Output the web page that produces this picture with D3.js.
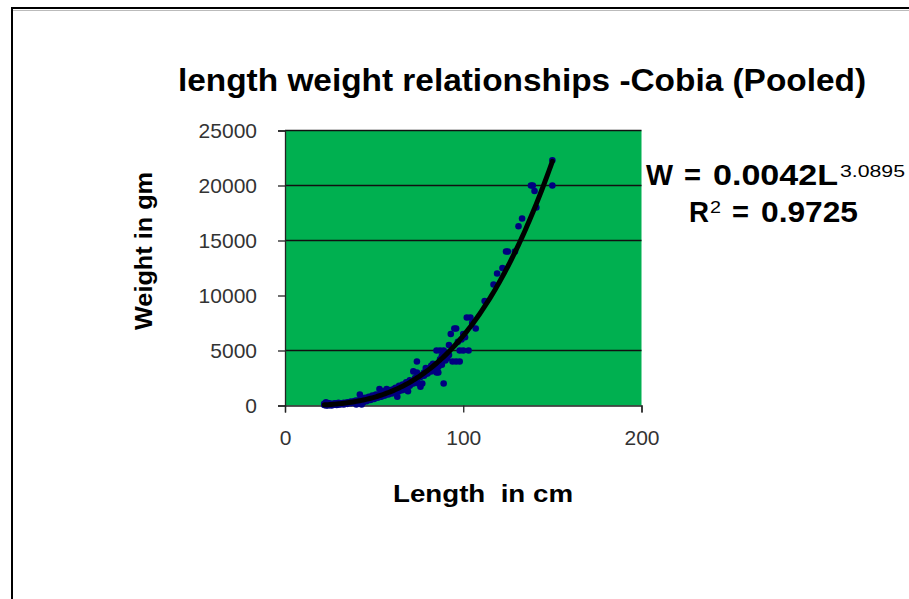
<!DOCTYPE html>
<html>
<head>
<meta charset="utf-8">
<script src="https://cdn.jsdelivr.net/npm/d3@7"></script>
<style>
  html, body { margin: 0; padding: 0; background: #fff; }
  svg { display: block; font-family: "Liberation Sans", Arial, sans-serif; }
</style>
</head>
<body>
<svg id="chart" width="909" height="599"></svg>
<script>
// ---- data ----
const titleText = "length weight relationships -Cobia (Pooled)";
const xAxisTitle = "Length  in cm";
const yAxisTitle = "Weight in gm";
const xTicks = [0, 100, 200];
const yTicks = [0, 5000, 10000, 15000, 20000, 25000];
const yGridValues = [5000, 15000, 20000, 25000];
const lengthCm = [
  22, 22, 23, 23, 24, 24, 25, 25, 26, 27, 28, 28, 29, 30, 30,
  23, 24, 25, 26, 27, 29, 31, 33, 35, 37, 39,
  31, 32, 33, 34, 35, 36, 37, 38, 39, 40, 40, 41, 42, 42, 43, 43, 44, 45, 45,
  44, 46, 48, 50, 52, 54, 56, 58, 60,
  46, 47, 48, 49, 50, 51, 52, 53, 54, 55, 56, 57, 58, 59, 60,
  62, 64, 66, 68, 70, 72, 74, 76, 78, 80,
  61, 62, 63, 64, 65, 66, 67, 68, 69, 70, 71, 72, 72, 73, 74, 74, 75, 76, 77, 77, 78, 79, 80,
  82, 84, 86, 88, 90, 91, 92, 97, 99, 101,
  82, 83, 85, 85, 86, 87, 87, 88, 89, 89,
  90, 92, 93, 94, 95, 96, 96, 98, 98, 100, 100, 102, 103, 104, 105, 107,
  112, 117, 119, 122, 124, 125, 129, 131, 133, 138, 139, 140, 141, 150, 150
];
const weightGm = [
  50, 150, 100, 300, 0, 100, 50, 200, 100, 150, 100, 200, 150, 100, 250,
  0, 200, 100, 0, 50, 50, 100, 100, 150, 200, 250,
  200, 150, 250, 200, 300, 250, 350, 300, 400, 100, 450, 350, 1000, 500, 450, 100, 600, 500, 700,
  300, 400, 500, 600, 700, 800, 900, 1000, 1100,
  600, 800, 650, 900, 800, 1000, 900, 1500, 1100, 1300, 1000, 1500, 1200, 1400, 1300,
  1200, 1300, 1400, 1600, 1800, 2200, 2400, 2600, 2700, 2900,
  1500, 1600, 800, 1800, 1700, 1900, 1500, 2100, 1300, 2300, 2000, 3100, 2000, 2500, 4000, 3000, 2000, 1700, 2000, 2800, 3000, 3400, 3200,
  3100, 3300, 3500, 3700, 4100, 4300, 4600, 5800, 6000, 6200,
  3600, 3800, 3000, 5000, 3000, 5000, 4200, 4500, 2000, 5000,
  4800, 5500, 6500, 4000, 7000, 4000, 7000, 4000, 5000, 5000, 6500, 8000, 5000, 8000, 7500, 7000,
  9500, 11000, 12000, 12500, 14000, 14000, 14000, 16300, 17000, 20000, 20000, 19500, 18000, 20000, 22300
];
const trendCoeff = [0.0042, 3.0895];   // W = a * L^b
const trendRange = [22, 150];
const eqLine1 = ["W", "=", "0.0042L", "3.0895"];
const eqLine2 = ["R", "2", "=", "0.9725"];

// ---- drawing ----
const svg = d3.select("#chart");
const font = "'Liberation Sans', Arial, sans-serif";

// outer frame
svg.append("rect")
  .attr("x", 12).attr("y", 8).attr("width", 920).attr("height", 620)
  .attr("fill", "none").attr("stroke", "#000").attr("stroke-width", 2);
svg.append("line")
  .attr("x1", 13).attr("x2", 909).attr("y1", 10.5).attr("y2", 10.5)
  .attr("stroke", "#bbb").attr("stroke-width", 1);

const x = d3.scaleLinear().domain([0, 200]).range([285, 641.5]);
const y = d3.scaleLinear().domain([0, 25000]).range([405.5, 130.5]);

// plot area
svg.append("rect")
  .attr("x", x(0)).attr("y", y(25000))
  .attr("width", x(200) - x(0)).attr("height", y(0) - y(25000))
  .attr("fill", "#00B050");

// gridlines
svg.append("g").selectAll("line").data(yGridValues).join("line")
  .attr("x1", x(0)).attr("x2", x(200))
  .attr("y1", d => y(d)).attr("y2", d => y(d))
  .attr("stroke", "#111").attr("stroke-width", 1.3);

// y axis
const yAxis = svg.append("g")
  .attr("transform", `translate(${x(0)},0)`)
  .call(d3.axisLeft(y).tickValues(yTicks).tickSize(7).tickPadding(21).tickFormat(d3.format("d")));
yAxis.select(".domain").attr("stroke", "#222").attr("stroke-width", 1.3);
yAxis.selectAll(".tick line").attr("stroke", "#222").attr("stroke-width", 1.3);
yAxis.selectAll(".tick text")
  .attr("font-family", font).attr("font-size", 21).attr("fill", "#333");

// x axis
const xAxis = svg.append("g")
  .attr("transform", `translate(0,${y(0)})`)
  .call(d3.axisBottom(x).tickValues(xTicks).tickSize(7).tickPadding(18).tickFormat(d3.format("d")));
xAxis.select(".domain").attr("stroke", "#222").attr("stroke-width", 1.3);
xAxis.selectAll(".tick line").attr("stroke", "#222").attr("stroke-width", 1.3);
xAxis.selectAll(".tick text")
  .attr("font-family", font).attr("font-size", 21).attr("fill", "#333");

// points
const pts = lengthCm.map((L, i) => ({ L, W: weightGm[i] }));
svg.append("g").selectAll("circle").data(pts).join("circle")
  .attr("cx", d => x(d.L)).attr("cy", d => y(d.W))
  .attr("r", 3.3).attr("fill", "#000080");

// trendline (power fit stated on the chart)
const trendPts = d3.range(trendRange[0], trendRange[1] + 0.01, 1)
  .map(L => ({ L, W: trendCoeff[0] * Math.pow(L, trendCoeff[1]) }));
svg.append("path")
  .datum(trendPts)
  .attr("fill", "none").attr("stroke", "#000").attr("stroke-width", 5)
  .attr("stroke-linecap", "round")
  .attr("d", d3.line().x(d => x(d.L)).y(d => y(d.W)).curve(d3.curveMonotoneX));

// title
svg.append("text")
  .attr("x", 178).attr("y", 91)
  .attr("font-family", font).attr("font-weight", "bold").attr("font-size", 31)
  .attr("textLength", 688).attr("lengthAdjust", "spacingAndGlyphs")
  .attr("fill", "#000")
  .text(titleText);

// axis titles
svg.append("text")
  .attr("x", 393).attr("y", 502)
  .attr("font-family", font).attr("font-weight", "bold").attr("font-size", 24)
  .attr("textLength", 180).attr("lengthAdjust", "spacingAndGlyphs")
  .style("white-space", "pre")
  .text(xAxisTitle);

svg.append("text")
  .attr("transform", "translate(152,330) rotate(-90)")
  .attr("x", 0).attr("y", 0)
  .attr("font-family", font).attr("font-weight", "bold").attr("font-size", 24)
  .attr("textLength", 158).attr("lengthAdjust", "spacingAndGlyphs")
  .text(yAxisTitle);

// equation
const eq = svg.append("g").attr("font-family", font).attr("font-weight", "bold").attr("fill", "#000");
const t1 = eq.append("text").attr("y", 185).attr("font-size", 29);
t1.append("tspan").attr("x", 646).attr("textLength", 27).attr("lengthAdjust", "spacingAndGlyphs").text(eqLine1[0]);
t1.append("tspan").attr("x", 684).attr("textLength", 17).attr("lengthAdjust", "spacingAndGlyphs").text(eqLine1[1]);
t1.append("tspan").attr("x", 713).attr("textLength", 125).attr("lengthAdjust", "spacingAndGlyphs").text(eqLine1[2]);
eq.append("text").attr("x", 840).attr("y", 177).attr("font-size", 17).attr("font-weight", "normal")
  .attr("textLength", 65).attr("lengthAdjust", "spacingAndGlyphs").text(eqLine1[3]);

const t2 = eq.append("text").attr("y", 222).attr("font-size", 29);
t2.append("tspan").attr("x", 689).attr("textLength", 20).attr("lengthAdjust", "spacingAndGlyphs").text(eqLine2[0]);
t2.append("tspan").attr("x", 732).attr("textLength", 17).attr("lengthAdjust", "spacingAndGlyphs").text(eqLine2[2]);
t2.append("tspan").attr("x", 761).attr("textLength", 97).attr("lengthAdjust", "spacingAndGlyphs").text(eqLine2[3]);
eq.append("text").attr("x", 710).attr("y", 213).attr("font-size", 17).attr("font-weight", "normal")
  .attr("textLength", 11).attr("lengthAdjust", "spacingAndGlyphs").text(eqLine2[1]);
</script>
</body>
</html>
